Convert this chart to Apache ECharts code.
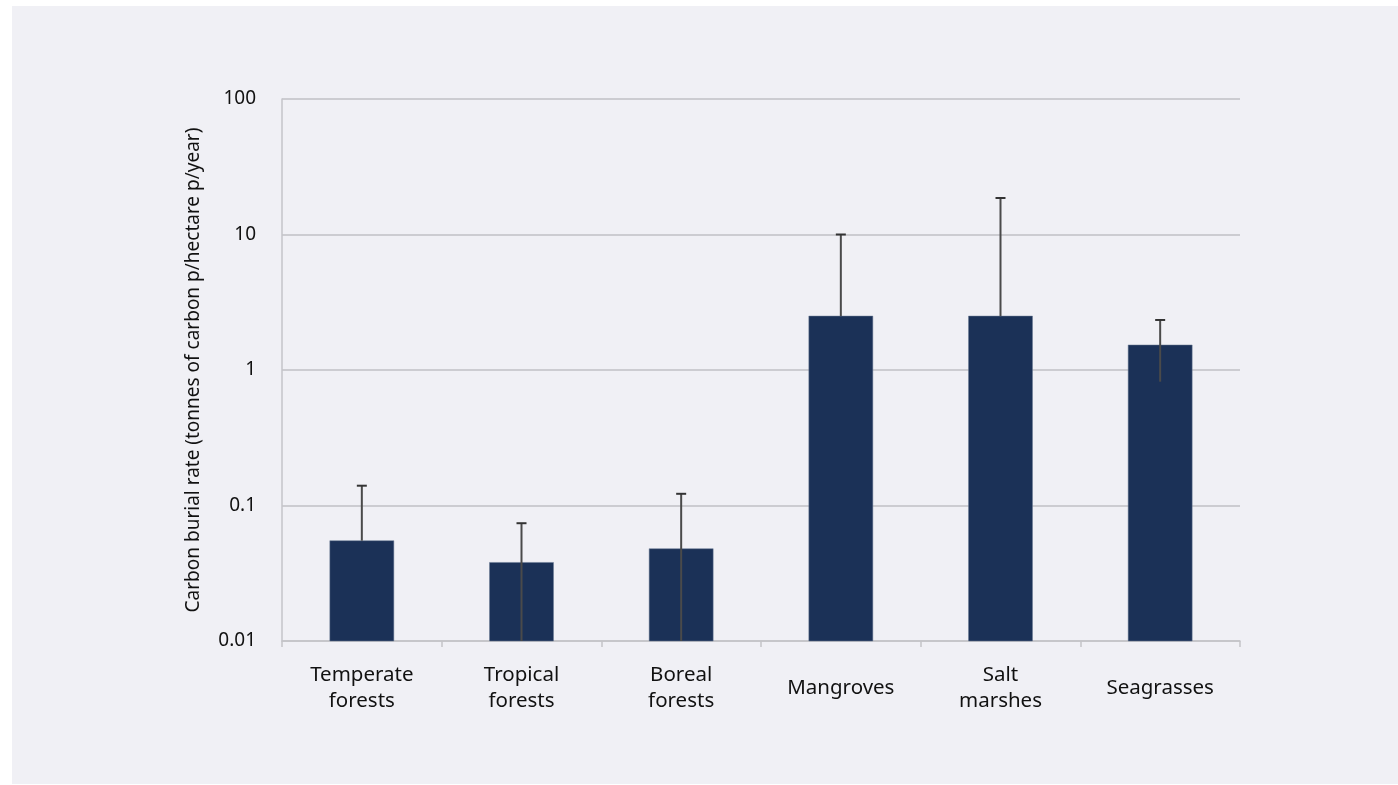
<!DOCTYPE html>
<html>
<head>
<meta charset="utf-8">
<style>
  html, body { margin: 0; padding: 0; background: #ffffff; }
  #panel { position: absolute; left: 12px; top: 6px; width: 1386px; height: 778px; background: #f0f0f5; }
  #chart { position: absolute; left: 0; top: 0; width: 1398px; height: 785px; }
</style>
</head>
<body>
<div id="panel"></div>
<div id="chart"></div>
<script src="https://cdn.jsdelivr.net/npm/echarts@6/dist/echarts.min.js"></script>
<script>
const categories = ["Temperate\nforests", "Tropical\nforests", "Boreal\nforests", "Mangroves", "Salt\nmarshes", "Seagrasses"];
const burialRate = [0.055, 0.038, 0.048, 2.5, 2.5, 1.53];
const errorUpper = [0.14, 0.074, 0.122, 10, 18.6, 2.34];
const errorLower = [0.055, 0.01, 0.01, 2.5, 2.5, 0.82];
const axisMin = 0.01;

const chart = echarts.init(document.getElementById("chart"));
const font = "Noto Sans";

// log axis bars would start at 1, so draw them from the axis minimum
const barData = categories.map((c, i) => [i, burialRate[i]]);
const errorData = categories.map((c, i) => [i, errorLower[i], errorUpper[i]]);

chart.setOption({
  backgroundColor: "transparent",
  animation: false,
  grid: { left: 282, right: 158, top: 99, bottom: 144 },
  xAxis: {
    type: "category",
    data: categories,
    axisLine: { lineStyle: { color: "#c4c4c8", width: 1.5 } },
    axisTick: { show: true, length: 6, lineStyle: { color: "#c4c4c8", width: 1.5 } },
    axisLabel: {
      color: "#111",
      fontSize: 20.5,
      fontFamily: font,
      lineHeight: 26,
      verticalAlign: "middle",
      margin: 47,
      interval: 0,
    },
  },
  yAxis: {
    type: "log",
    logBase: 10,
    min: axisMin,
    max: 100,
    name: "Carbon burial rate (tonnes of carbon p/hectare p/year)",
    nameLocation: "middle",
    nameGap: 79,
    nameTextStyle: { color: "#111", fontSize: 19, fontFamily: font },
    axisLine: { show: true, lineStyle: { color: "#c4c4c8", width: 1.5 } },
    axisTick: { show: false },
    axisLabel: { color: "#111", fontSize: 19, fontFamily: font, margin: 26 },
    splitLine: { lineStyle: { color: "#c0c0c4", width: 1.5 } },
  },
  series: [
    {
      type: "custom",
      data: barData,
      z: 5,
      renderItem: function (params, api) {
        const i = api.value(0);
        const top = api.coord([i, api.value(1)]);
        const base = api.coord([i, axisMin]);
        const w = 64;
        return {
          type: "rect",
          shape: { x: top[0] - w / 2, y: top[1], width: w, height: base[1] - top[1] },
          style: { fill: "#1b3157", stroke: "#6b7a93", lineWidth: 0.5 },
        };
      },
    },
    {
      type: "custom",
      data: errorData,
      z: 10,
      renderItem: function (params, api) {
        const i = api.value(0);
        const lo = api.coord([i, api.value(1)]);
        const hi = api.coord([i, api.value(2)]);
        const half = 5;
        return {
          type: "group",
          children: [
            {
              type: "line",
              shape: { x1: hi[0], y1: hi[1], x2: lo[0], y2: lo[1] },
              style: { stroke: "#4a4a4a", lineWidth: 2 },
            },
            {
              type: "line",
              shape: { x1: hi[0] - half, y1: hi[1], x2: hi[0] + half, y2: hi[1] },
              style: { stroke: "#333", lineWidth: 2 },
            },
          ],
        };
      },
    },
  ],
});
</script>
</body>
</html>
